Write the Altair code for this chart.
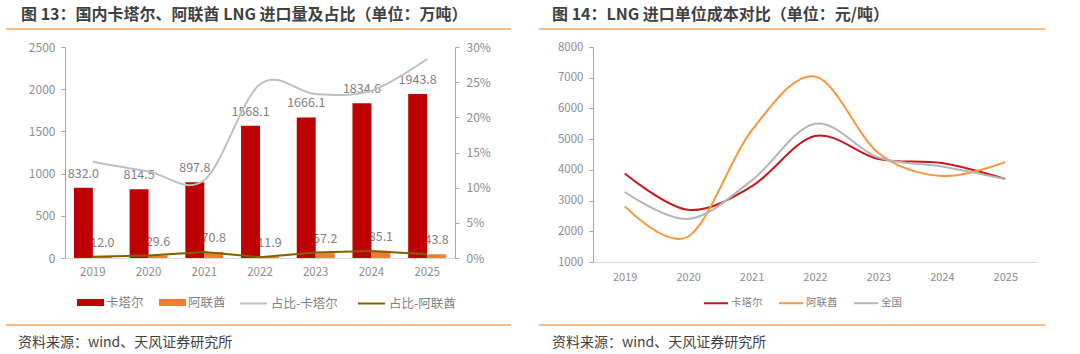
import altair as alt
import pandas as pd

# ---------------- data ----------------
years = ["2019", "2020", "2021", "2022", "2023", "2024", "2025"]

vol_series = ["卡塔尔", "阿联酋"]
qatar_vol = [832.0, 814.5, 897.8, 1568.1, 1666.1, 1834.6, 1943.8]
uae_vol = [12.0, 29.6, 70.8, 11.9, 57.2, 85.1, 43.8]

share_series = ["占比-卡塔尔", "占比-阿联酋"]
qatar_share = [0.137, 0.123, 0.111, 0.247, 0.233, 0.238, 0.283]
uae_share = [0.0018, 0.0035, 0.0085, 0.0012, 0.0078, 0.0100, 0.0055]

cost_series = ["卡塔尔", "阿联酋", "全国"]
cost_qatar = [3880, 2700, 3460, 5100, 4350, 4220, 3700]
cost_uae = [2810, 1830, 5280, 7040, 4550, 3800, 4250]
cost_all = [3280, 2400, 3650, 5500, 4400, 4110, 3700]

title_left = "图 13：国内卡塔尔、阿联酋 LNG 进口量及占比（单位：万吨）"
title_right = "图 14：LNG 进口单位成本对比（单位：元/吨）"
source_text = "资料来源：wind、天风证券研究所"

# ---------------- style ----------------
FONT = "Noto Sans CJK SC"
AXIS_TXT = "#8C8C8C"
AXIS_LINE = "#A6A6A6"
XAXIS_LINE = "#D9D9D9"
SEP = "#F4A261"
DARK = "#3F3F3F"

W1, H1 = 390, 211
W2, H2 = 444, 215

vol_df = pd.DataFrame({
    "year": years * 2,
    "country": [vol_series[0]] * 7 + [vol_series[1]] * 7,
    "vol": qatar_vol + uae_vol,
})
vol_df["label"] = vol_df["vol"].map(lambda v: f"{v:.1f}")

share_df = pd.DataFrame({
    "year": years * 2,
    "series": [share_series[0]] * 7 + [share_series[1]] * 7,
    "share": qatar_share + uae_share,
})

cost_df = pd.DataFrame({
    "year": years * 3,
    "series": [cost_series[0]] * 7 + [cost_series[1]] * 7 + [cost_series[2]] * 7,
    "cost": cost_qatar + cost_uae + cost_all,
})


def decorations(title, tx, ty, rx1, rx2, ry_top, ry_bot, sx, sy):
    one = pd.DataFrame({"t": [title], "s": [source_text]})
    t = alt.Chart(one).mark_text(
        align="left", baseline="middle", font=FONT, fontSize=16,
        fontWeight="bold", color=DARK
    ).encode(x=alt.value(tx), y=alt.value(ty), text="t:N")
    r1 = alt.Chart(one).mark_rule(color=SEP, strokeWidth=1.5).encode(
        x=alt.value(rx1), x2=alt.value(rx2), y=alt.value(ry_top))
    r2 = alt.Chart(one).mark_rule(color=SEP, strokeWidth=1.5).encode(
        x=alt.value(rx1), x2=alt.value(rx2), y=alt.value(ry_bot))
    s = alt.Chart(one).mark_text(
        align="left", baseline="middle", font=FONT, fontSize=14, color=DARK
    ).encode(x=alt.value(sx), y=alt.value(sy), text="s:N")
    return [t, r1, r2, s]


# ---------------- left chart ----------------
x_left = alt.X(
    "year:N", sort=years,
    scale=alt.Scale(paddingInner=0.32, paddingOuter=0.16),
    axis=alt.Axis(title=None, labelAngle=0, ticks=False, domainColor=XAXIS_LINE,
                  labelColor=AXIS_TXT, labelFontSize=11.5, labelPadding=8,
                  labelFont=FONT),
)
xoff = alt.XOffset("country:N", sort=vol_series,
                   scale=alt.Scale(domain=vol_series, paddingInner=0, paddingOuter=0))
y_vol = alt.Y(
    "vol:Q",
    scale=alt.Scale(domain=[0, 2500], nice=False),
    axis=alt.Axis(title=None, values=[0, 500, 1000, 1500, 2000, 2500], format="d",
                  grid=False, domainColor=AXIS_LINE, tickColor=AXIS_LINE, tickSize=4,
                  labelColor=AXIS_TXT, labelFontSize=12, labelPadding=6,
                  labelFont=FONT),
)

bars = alt.Chart(vol_df).mark_bar().encode(
    x=x_left, xOffset=xoff, y=y_vol,
    color=alt.Color(
        "country:N", sort=vol_series,
        scale=alt.Scale(domain=vol_series, range=["#C00000", "#ED7D31"]),
        legend=alt.Legend(
            title=None, orient="none", legendX=12, legendY=242,
            direction="horizontal",
            symbolType="M-1,-0.26L1,-0.26L1,0.26L-1,0.26Z", symbolSize=729,
            symbolStrokeWidth=0, labelFont=FONT, labelFontSize=12.5,
            labelColor="#7F7F7F", labelOffset=2, columnPadding=15, padding=0),
    ),
)

label_kw = dict(dy=-10, baseline="alphabetic", fontSize=12.5, color="#808080", font=FONT)
uae_labels = alt.Chart(vol_df).transform_filter(
    alt.datum.country == vol_series[1]
).mark_text(**label_kw).encode(x=x_left, xOffset=xoff, y=y_vol, text="label:N")
qatar_labels = alt.Chart(vol_df).transform_filter(
    alt.datum.country == vol_series[0]
).mark_text(**label_kw).encode(x=x_left, xOffset=xoff, y=y_vol, text="label:N")

y_share = alt.Y(
    "share:Q",
    scale=alt.Scale(domain=[0, 0.30], nice=False),
    axis=alt.Axis(title=None, orient="right", format=".0%",
                  values=[0, 0.05, 0.10, 0.15, 0.20, 0.25, 0.30], grid=False,
                  domainColor=AXIS_LINE, tickColor=AXIS_LINE, tickSize=4,
                  labelColor=AXIS_TXT, labelFontSize=12, labelPadding=7,
                  labelFont=FONT),
)
stroke_share = alt.Stroke(
    "series:N", sort=share_series,
    scale=alt.Scale(domain=share_series, range=["#BFBFBF", "#806000"]),
    legend=alt.Legend(
        title=None, orient="none", legendX=174, legendY=242,
        direction="horizontal", symbolType="stroke", symbolSize=729,
        symbolStrokeWidth=2, labelFont=FONT, labelFontSize=12.5,
        labelColor="#7F7F7F", labelOffset=3, columnPadding=16, padding=0),
)
line_q = alt.Chart(share_df).transform_filter(
    alt.datum.series == share_series[0]
).mark_line(interpolate="cardinal", strokeWidth=2).encode(
    x=x_left, y=y_share, stroke=stroke_share)
line_u = alt.Chart(share_df).transform_filter(
    alt.datum.series == share_series[1]
).mark_line(strokeWidth=2).encode(x=x_left, y=y_share, stroke=stroke_share)

left_core = alt.layer(
    alt.layer(uae_labels, bars, qatar_labels),
    alt.layer(line_q, line_u),
).resolve_scale(y="independent")

left = alt.layer(
    left_core,
    *decorations(title_left, -44, -32, -59, 446, -18, 278, -47, 296),
).properties(width=W1, height=H1)

# ---------------- right chart ----------------
x_right = alt.X(
    "year:N", sort=years,
    scale=alt.Scale(type="point", padding=0.5),
    axis=alt.Axis(title=None, labelAngle=0, ticks=False, domainColor=XAXIS_LINE,
                  labelColor=AXIS_TXT, labelFontSize=11, labelPadding=9,
                  labelFont=FONT),
)
y_cost = alt.Y(
    "cost:Q",
    scale=alt.Scale(domain=[1000, 8000], nice=False, zero=False),
    axis=alt.Axis(title=None, values=list(range(1000, 8001, 1000)), format="d",
                  grid=False, domainColor=AXIS_LINE, tickColor=AXIS_LINE, tickSize=4,
                  labelColor=AXIS_TXT, labelFontSize=11.5, labelPadding=6,
                  labelFont=FONT),
)
cost_lines = alt.Chart(cost_df).mark_line(interpolate="cardinal", strokeWidth=2).encode(
    x=x_right, y=y_cost,
    color=alt.Color(
        "series:N", sort=cost_series,
        scale=alt.Scale(domain=cost_series, range=["#C8161D", "#F8963F", "#B4B4B4"]),
        legend=alt.Legend(
            title=None, orient="none", legendX=110, legendY=243,
            direction="horizontal", symbolType="stroke", symbolSize=576,
            symbolStrokeWidth=2, labelFont=FONT, labelFontSize=10.5,
            labelColor="#7F7F7F", labelOffset=2, columnPadding=12, padding=0),
    ),
    order=alt.Order("series:N"),
)

right = alt.layer(
    cost_lines,
    *decorations(title_right, -41, -32, -54, 452, -18, 278, -41, 296),
).properties(width=W2, height=H2)

chart = alt.hconcat(left, right, spacing=26).resolve_scale(
    color="independent", stroke="independent"
).properties(
    padding={"left": 5, "top": 7, "right": 0, "bottom": 0}
).configure(font=FONT).configure_view(strokeWidth=0)

chart.save("out.html", embed_options={"renderer": "svg", "actions": False})
